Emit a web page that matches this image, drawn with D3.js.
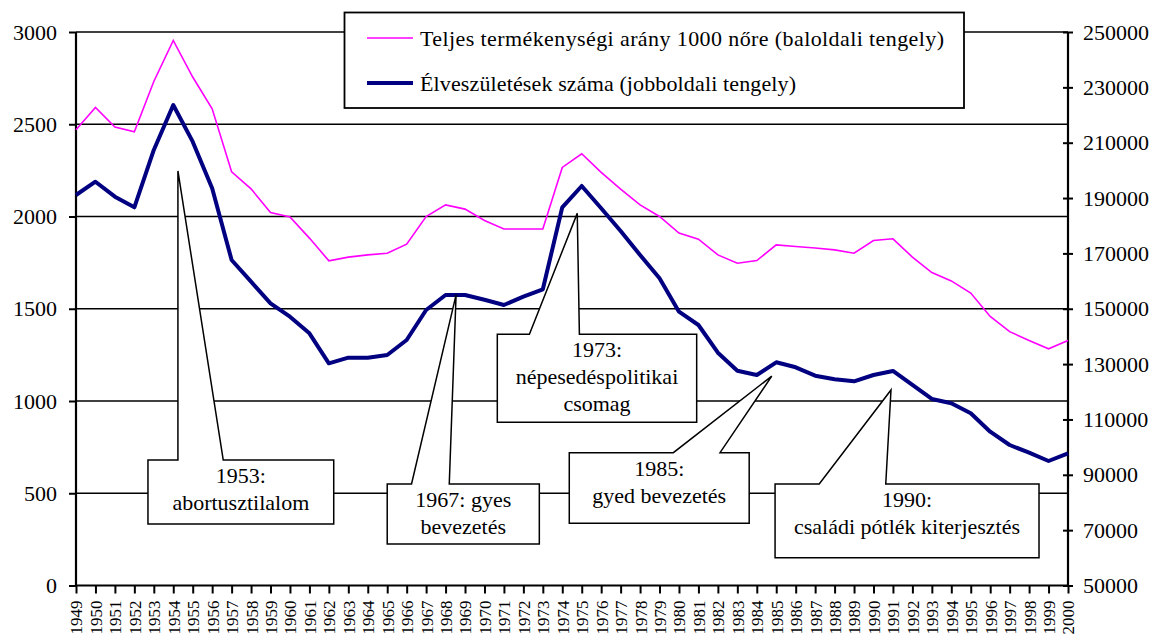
<!DOCTYPE html>
<html><head><meta charset="utf-8">
<script src="https://cdn.jsdelivr.net/npm/d3@7/dist/d3.min.js"></script>
<style>
body{margin:0;background:#fff}
svg{display:block}
</style>
</head><body>
<svg id="chart" width="1157" height="637"></svg>
<script>
// ---------- DATA ----------
const years = ["1949","1950","1951","1952","1953","1954","1955","1956","1957","1958","1959","1960","1961","1962","1963","1964","1965","1966","1967","1968","1969","1970","1971","1972","1973","1974","1975","1976","1977","1978","1979","1980","1981","1982","1983","1984","1985","1986","1987","1988","1989","1990","1991","1992","1993","1994","1995","1996","1997","1998","1999","2000"];
// Teljes termékenységi arány 1000 nőre (left axis)
const fertility = [2470,2591,2485,2459,2732,2954,2756,2584,2242,2150,2022,1997,1883,1760,1780,1792,1801,1850,2000,2063,2040,1978,1932,1932,1932,2266,2340,2239,2148,2063,2000,1910,1877,1792,1747,1761,1846,1837,1829,1819,1801,1870,1879,1780,1696,1651,1585,1458,1376,1328,1283,1328];
// Élveszületések száma (right axis)
const births = [191100,195900,190500,186650,207370,223630,210370,193520,167620,159780,151970,147130,141130,130290,132320,132300,133290,138710,149550,154970,154970,153240,151360,154360,157030,186650,194360,186300,178100,169420,161000,148940,144130,134120,127620,126060,130650,128840,125810,124500,123790,126060,127510,122450,117390,115830,112220,105580,100770,97990,94990,97770];
const leftTicks = [0,500,1000,1500,2000,2500,3000];
const rightTicks = [50000,70000,90000,110000,130000,150000,170000,190000,210000,230000,250000];
const seriesNames = ["Teljes termékenységi arány 1000 nőre (baloldali tengely)","Élveszületések száma (jobboldali tengely)"];
// Callout annotations, in data coordinates (year position, left-axis value)
const callouts = [
  {lines:["1953:","abortusztilalom"], box:[1952.70,1962.25,680,333], base:[1954.24,1956.57], tip:[1954.24,2247]},
  {lines:["1967: gyes","bevezetés"], box:[1965.00,1972.82,550,225], base:[1966.25,1968.19], tip:[1968.54,1575]},
  {lines:["1973:","népesedéspolitikai","csomag"], box:[1970.66,1980.91,1362,885], base:[1972.31,1974.88], tip:[1974.77,2017]},
  {lines:["1985:","gyed bevezetés"], box:[1974.36,1983.61,720,337], base:[1979.71,1982.11], tip:[1984.77,1135]},
  {lines:["1990:","családi pótlék kiterjesztés"], box:[1984.94,1998.51,550,151], base:[1987.21,1990.63], tip:[1990.90,1060]}
];

// ---------- LAYOUT ----------
const FONT = "'Liberation Serif', 'DejaVu Serif', 'Times New Roman', serif";
const L = 76, R = 1068, T = 32, B = 585.5;
const svg = d3.select("#chart");
const x = d3.scalePoint().domain(years).range([L, R]);
const xLin = d3.scaleLinear().domain([1949, 2000]).range([L, R]);
const yL = d3.scaleLinear().domain([0, 3000]).range([B, T]);
const yR = d3.scaleLinear().domain([50000, 250000]).range([B, T]);

// gridlines
svg.append("g").selectAll("line").data(leftTicks.filter(d => d > 0)).join("line")
  .attr("x1", L).attr("x2", R).attr("y1", d => yL(d)).attr("y2", d => yL(d))
  .attr("stroke", "#000").attr("stroke-width", 1.4);

// left axis
const gL = svg.append("g").attr("transform", `translate(${L},0)`)
  .call(d3.axisLeft(yL).tickValues(leftTicks).tickSize(7).tickPadding(12).tickFormat(d3.format("d")));
gL.attr("font-family", null);
gL.select(".domain").attr("stroke-width", 2.2).attr("d", `M-0,${T}V${B}`);
gL.selectAll(".tick line").attr("stroke-width", 2);
gL.selectAll("text").style("font-family", FONT).style("font-size", "22px").style("fill", "#000");

// right axis
const gR = svg.append("g").attr("transform", `translate(${R},0)`)
  .call(d3.axisRight(yR).tickValues(rightTicks).tickSize(5).tickPadding(10).tickFormat(d3.format("d")));
gR.attr("font-family", null);
gR.select(".domain").attr("stroke-width", 2.2).attr("d", `M0,${T}V${B}`);
gR.selectAll(".tick line").attr("x1", -5).attr("stroke-width", 2);
gR.selectAll("text").style("font-family", FONT).style("font-size", "22px").style("fill", "#000");

// bottom axis
const gB = svg.append("g").attr("transform", `translate(0,${B})`)
  .call(d3.axisBottom(x).tickSize(8).tickSizeOuter(0));
gB.attr("font-family", null);
gB.select(".domain").attr("stroke-width", 2.2).attr("d", `M${L},0H${R}`);
gB.selectAll(".tick line").attr("stroke-width", 2);
gB.selectAll("text").style("font-family", FONT).style("font-size", "17px").style("fill", "#000")
  .attr("transform", "rotate(-90)").attr("text-anchor", "end")
  .attr("x", -15).attr("y", 0).attr("dy", "0.35em");

// lines
svg.append("path").datum(fertility)
  .attr("fill", "none").attr("stroke", "#FF00FF").attr("stroke-width", 1.6)
  .attr("d", d3.line().x((d, i) => x(years[i])).y(d => yL(d)));
svg.append("path").datum(births)
  .attr("fill", "none").attr("stroke", "#000080").attr("stroke-width", 4).attr("stroke-linejoin", "round")
  .attr("d", d3.line().x((d, i) => x(years[i])).y(d => yR(d)));

// callouts
callouts.forEach(c => {
  const x0 = xLin(c.box[0]), x1 = xLin(c.box[1]), y0 = yL(c.box[2]), y1 = yL(c.box[3]);
  const b0 = xLin(c.base[0]), b1 = xLin(c.base[1]);
  const tx = xLin(c.tip[0]), ty = yL(c.tip[1]);
  const p = d3.path();
  p.moveTo(x0, y0); p.lineTo(b0, y0); p.lineTo(tx, ty); p.lineTo(b1, y0);
  p.lineTo(x1, y0); p.lineTo(x1, y1); p.lineTo(x0, y1); p.closePath();
  svg.append("path").attr("d", p.toString()).attr("fill", "#fff")
    .attr("stroke", "#000").attr("stroke-width", 1.5).attr("stroke-linejoin", "miter");
  const cx = (x0 + x1) / 2;
  svg.append("g").selectAll("text").data(c.lines).join("text")
    .attr("x", cx).attr("y", (d, i) => y0 + 23 + i * 27)
    .attr("text-anchor", "middle")
    .style("font-family", FONT).style("font-size", "22px").style("fill", "#000")
    .text(d => d);
});

// legend
const lg = svg.append("g");
lg.append("rect").attr("x", 344.5).attr("y", 12.5).attr("width", 619.5).attr("height", 95.5)
  .attr("fill", "#fff").attr("stroke", "#000").attr("stroke-width", 1.8);
const legendItems = [
  {name: seriesNames[0], color: "#FF00FF", w: 1.6, y: 38, len: 524},
  {name: seriesNames[1], color: "#000080", w: 4, y: 83, len: 376}
];
legendItems.forEach(it => {
  lg.append("line").attr("x1", 367).attr("x2", 413).attr("y1", it.y).attr("y2", it.y)
    .attr("stroke", it.color).attr("stroke-width", it.w);
  lg.append("text").attr("x", 420).attr("y", it.y + 8)
    .attr("textLength", it.len).attr("lengthAdjust", "spacing")
    .style("font-family", FONT).style("font-size", "22px").style("fill", "#000")
    .text(it.name);
});
</script>
</body></html>
